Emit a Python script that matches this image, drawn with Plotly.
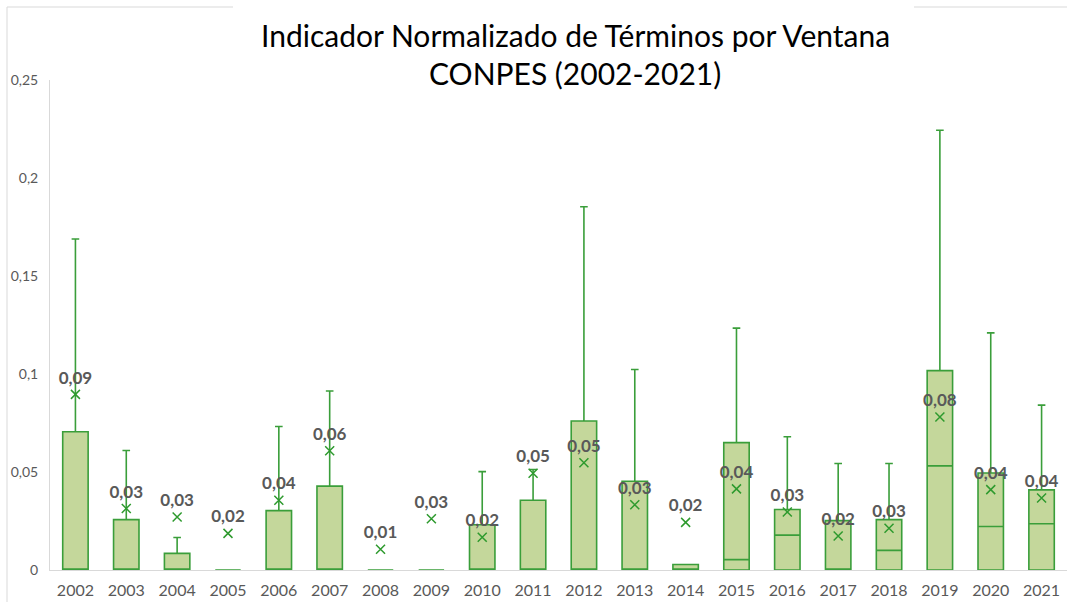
import plotly.graph_objects as go

# ---- data ----
years = [str(y) for y in range(2002, 2022)]
q1 = [0] * 20
median = [0, 0, 0, 0, 0, 0, 0, 0, 0, 0, 0, 0, 0,
          0.0053, 0.0178, 0, 0.0100, 0.0531, 0.0222, 0.0236]
q3 = [0.0705, 0.0257, 0.0085, 0, 0.0303, 0.0428, 0, 0, 0.0231, 0.0356,
      0.0760, 0.0453, 0.0028, 0.0650, 0.0309, 0.0252, 0.0257, 0.1017, 0.0495, 0.0409]
upper = [0.1689, 0.0610, 0.0166, 0, 0.0732, 0.0913, 0, 0, 0.0502, 0.0513,
         0.1853, 0.1023, 0.0028, 0.1234, 0.0680, 0.0543, 0.0543, 0.2244, 0.1210, 0.0841]
lower = [0] * 20
means = [0.0896, 0.0314, 0.0270, 0.0187, 0.0356, 0.0608, 0.0106, 0.0261, 0.0167, 0.0494,
         0.0547, 0.0333, 0.0243, 0.0414, 0.0296, 0.0173, 0.0213, 0.0781, 0.0410, 0.0367]
mean_labels = ["0,09", "0,03", "0,03", "0,02", "0,04", "0,06", "0,01", "0,03", "0,02", "0,05",
               "0,05", "0,03", "0,02", "0,04", "0,03", "0,02", "0,03", "0,08", "0,04", "0,04"]
title_lines = ["Indicador Normalizado de Términos por Ventana", "CONPES (2002-2021)"]

W, H = 1067, 602
L, R, T, B = 50, 0, 80, 32
FONT = "Lato"
LINE_GREEN = "#3A9E3A"
MARK_GREEN = "#2E9A2E"
FILL = "#C4D79B"
GRAY = "#595959"
BORDER = "#D9D9D9"

fig = go.Figure()
fig.add_trace(go.Box(
    x=years, q1=q1, median=median, q3=q3,
    lowerfence=lower, upperfence=upper,
    fillcolor=FILL, line=dict(color=LINE_GREEN, width=1.6),
    whiskerwidth=0.3, width=0.5, boxpoints=False, showlegend=False,
    hoverinfo="skip",
))
fig.add_trace(go.Scatter(
    x=years, y=means, mode="markers+text", text=mean_labels,
    textposition="top center",
    textfont=dict(family=FONT, size=17, color=GRAY, weight="bold"),
    marker=dict(symbol="x-thin", size=9, color=MARK_GREEN,
                line=dict(color=MARK_GREEN, width=1.5)),
    showlegend=False, cliponaxis=False,
))

pw, ph = W - L - R, H - T - B
def px(x):
    return (x - L) / pw
def py(y):
    return (H - B - y) / ph

shapes = [
    dict(type="line", xref="paper", yref="paper", x0=px(7), x1=px(7), y0=py(7), y1=py(H + 5),
         line=dict(color=BORDER, width=1)),
    dict(type="line", xref="paper", yref="paper", x0=px(7), x1=px(233), y0=py(7), y1=py(7),
         line=dict(color=BORDER, width=1)),
    dict(type="line", xref="paper", yref="paper", x0=px(914), x1=px(W + 5), y0=py(7), y1=py(7),
         line=dict(color=BORDER, width=1)),
]

annotations = [
    dict(text=title_lines[0], xref="paper", yref="paper", x=px(575), y=py(35),
         xanchor="center", yanchor="middle", showarrow=False,
         font=dict(family=FONT, size=30, color="black")),
    dict(text=title_lines[1], xref="paper", yref="paper", x=px(575), y=py(73),
         xanchor="center", yanchor="middle", showarrow=False,
         font=dict(family=FONT, size=30, color="black")),
]

fig.update_layout(
    width=W, height=H,
    margin=dict(l=L, r=R, t=T, b=B, autoexpand=False),
    paper_bgcolor="white", plot_bgcolor="white",
    separators=", ",
    font=dict(family=FONT, color=GRAY),
    shapes=shapes,
    annotations=annotations,
    showlegend=False,
)
fig.update_xaxes(type="category", range=[-0.5, 19.5], showline=True, linecolor=BORDER,
                 linewidth=1, showgrid=False, zeroline=False, ticks="",
                 tickfont=dict(family=FONT, size=16, color=GRAY), ticklabelstandoff=6,
                 automargin=False)
fig.update_yaxes(range=[0, 0.25], dtick=0.05, tick0=0, showline=True, linecolor=BORDER,
                 linewidth=1, showgrid=False, zeroline=False, ticks="",
                 tickfont=dict(family=FONT, size=14, color=GRAY), ticklabelstandoff=8,
                 automargin=False)

fig.write_html("out.html", config={"displayModeBar": False},
               post_script="document.body.style.margin='0px';document.body.style.overflow='hidden';")
